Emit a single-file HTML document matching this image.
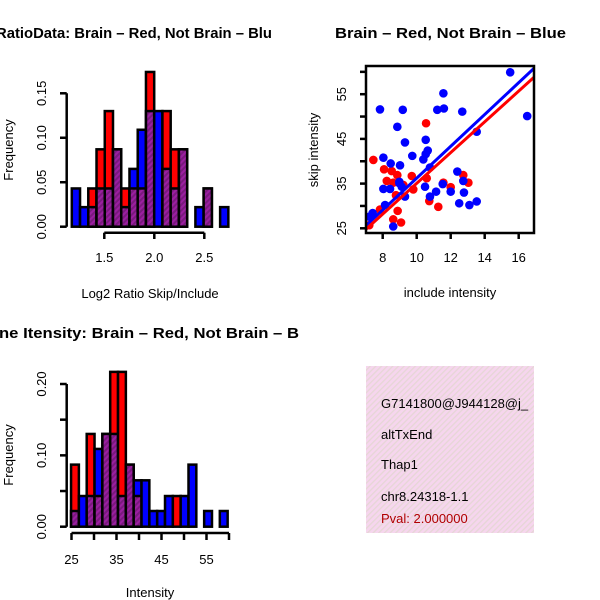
<!DOCTYPE html>
<html><head><meta charset="utf-8"><style>
body{margin:0;background:#fff}
svg{display:block;font-family:"Liberation Sans",sans-serif}
</style></head><body>
<svg id="c" width="600" height="600" viewBox="0 0 600 600">
<defs>
<pattern id="hatch" width="4" height="4" patternUnits="userSpaceOnUse" patternTransform="rotate(45)">
<rect width="4" height="4" fill="#9b1fa0"/><rect width="2" height="4" fill="#7a1a7e"/></pattern>
<pattern id="pinkhatch" width="4" height="4" patternUnits="userSpaceOnUse" patternTransform="rotate(45)">
<rect width="4" height="4" fill="#f6d6ee"/><rect width="1.3" height="4" fill="#e6d6d6"/></pattern>
<clipPath id="scClip"><rect x="366" y="66" width="168" height="167"/></clipPath>
</defs>
<g id="g"></g>
</svg>
<script>
// ---- Top-left histogram data (log2 ratio) ----
const ratioRed  = [0,0,.043,.087,.13,.087,.043,.043,.043,.174,0,.13,.087,.087,0,0,.043,0,0];
const ratioBlue = [.043,.022,.022,.043,.043,.087,.022,.065,.109,.13,.13,.065,.043,.087,0,.022,.043,0,.022];
const ratioStart = 1.175, ratioBinW = 0.0824;
const ratioXTicks = [1.5,2.0,2.5];
const ratioYTicks = [0,0.05,0.10,0.15];
const ratioYLabels = ["0.00","0.05","0.10","0.15"];
// ---- Bottom-left histogram data (intensity) ----
const intRed  = [.087,0,.13,.043,.13,.217,.217,.087,.043,0,0,0,0,.043,0,0,0,0,0,0];
const intBlue = [.022,.043,.043,.109,.13,.13,.043,.087,.065,.065,.022,.022,.043,0,.043,.087,0,.022,0,.022];
const intStart = 24.9, intBinW = 1.74;
const intXTicks = [25,30,35,40,45,50,55,60];
const intXLabels = ["25","","35","","45","","55",""];
const intYTicks = [0,0.05,0.10,0.15,0.20];
const intYLabels = ["0.00","","0.10","","0.20"];
// ---- Scatter data ----
const blueX = [15.5,11.57,7.84,9.18,11.21,11.6,12.68,16.5,8.86,13.53,9.31,10.53,10.65,10.53,10.39,9.74,8.04,8.47,9.02,10.78,12.39,12.74,8.98,11.53,10.49,8.04,8.43,9.12,9.31,10.78,11.14,12,12.78,12.5,13.1,13.53,8.14,7.41,7.21,8.62,8.98];
const blueY = [59.9,55.2,51.6,51.5,51.5,51.8,51.1,50.1,47.7,46.6,44.2,44.8,42.4,41.6,40.4,41.2,40.8,39.5,39.1,38.6,37.7,35.6,35.4,34.9,34.3,33.8,33.8,34.3,32.1,32.1,33.2,33.2,33,30.6,30.2,31,30.2,28.4,27.6,25.4,35.1];
const redX = [7.45,10.55,8.08,8.53,8.86,9.71,8.24,8.62,9.21,9.8,8.78,10.74,11.27,8.88,7.84,8.62,9.08,11.57,12,12.74,13.04,10.59,7.21];
const redY = [40.3,48.5,38.2,37.8,36.9,36.7,35.6,35.2,34.7,33.7,32.4,31.1,29.8,28.9,29.2,27,26.3,35.2,34.2,36.9,35.2,36.2,25.7];
const blueFit = [0.62,3.56]; // intercept, slope
const redFit  = [0.66,3.44];
const scXTicks = [8,10,12,14,16];
const scYTicks = [25,30,35,40,45,50,55,60];
const scYLabels = ["25","","35","","45","","55",""];

const NS="http://www.w3.org/2000/svg";
const G=document.getElementById('g');
function el(tag,attrs,parent){const e=document.createElementNS(NS,tag);for(const k in attrs)e.setAttribute(k,attrs[k]);(parent||G).appendChild(e);return e;}
function txt(x,y,s,attrs){const e=el('text',Object.assign({x:x,y:y},attrs||{}));e.textContent=s;return e;}

// ===== Top-left histogram =====
(function(){
 const xs=v=>104.3+(v-1.5)*100, ys=v=>226.7-v*(133.4/0.15);
 const g=el('g',{});
 
 
 ratioRed.forEach((r,i)=>{
  const b=ratioBlue[i],x0=xs(ratioStart+i*ratioBinW),w=ratioBinW*100;
  const mx=Math.max(r,b),mn=Math.min(r,b);
  if(mx>0){const e=el('rect',{x:x0,y:ys(mx),width:w,height:ys(0)-ys(mx),fill:r>b?'#f00':'#00f',stroke:'#000','stroke-width':2.5},g);
   
   }
  if(mn>0){const e=el('rect',{x:x0,y:ys(mn),width:w,height:ys(0)-ys(mn),fill:'url(#hatch)',stroke:'#000','stroke-width':2.5},g);
   
   }
 });
 el('line',{x1:xs(1.5),x2:xs(2.5),y1:232.7,y2:232.7,stroke:'#000','stroke-width':2.5});
 ratioXTicks.forEach(t=>{el('line',{x1:xs(t),x2:xs(t),y1:232.7,y2:239,stroke:'#000','stroke-width':2.5});
  const e=txt(xs(t),262,t.toFixed(1),{'font-size':13,'text-anchor':'middle'});
  
  });
 el('line',{x1:66.7,x2:66.7,y1:ys(0),y2:ys(0.15),stroke:'#000','stroke-width':2.5});
 ratioYTicks.forEach((t,i)=>{el('line',{x1:60,x2:66.7,y1:ys(t),y2:ys(t),stroke:'#000','stroke-width':2.5});
  const e=txt(0,0,ratioYLabels[i],{'font-size':13,'text-anchor':'middle',transform:`translate(46,${ys(t)}) rotate(-90)`});
  
  });
 const xl=txt(150,298,'Log2 Ratio Skip/Include',{'font-size':13,'text-anchor':'middle'});
 
 
 const yl=txt(0,0,'Frequency',{'font-size':13,'text-anchor':'middle',transform:'translate(13,150) rotate(-90)'});
 
 
 const t=txt(-4,38,'RatioData: Brain \u2013 Red, Not Brain \u2013 Blu',{'font-size':15,'font-weight':'bold',textLength:276,lengthAdjust:'spacingAndGlyphs'});
 
 
})();

// ===== Bottom-left histogram =====
(function(){
 const xs=v=>71.5+(v-25)*4.5, ys=v=>526.7-v*(142.7/0.2);
 const g=el('g',{});
 
 
 intRed.forEach((r,i)=>{
  const b=intBlue[i],x0=xs(intStart+i*intBinW),w=intBinW*4.5;
  const mx=Math.max(r,b),mn=Math.min(r,b);
  if(mx>0){const e=el('rect',{x:x0,y:ys(mx),width:w,height:ys(0)-ys(mx),fill:r>b?'#f00':'#00f',stroke:'#000','stroke-width':2.5},g);
   
   }
  if(mn>0){const e=el('rect',{x:x0,y:ys(mn),width:w,height:ys(0)-ys(mn),fill:'url(#hatch)',stroke:'#000','stroke-width':2.5},g);
   
   }
 });
 el('line',{x1:xs(25),x2:xs(60),y1:533,y2:533,stroke:'#000','stroke-width':2.5});
 intXTicks.forEach((t,i)=>{el('line',{x1:xs(t),x2:xs(t),y1:533,y2:540,stroke:'#000','stroke-width':2.5});
  if(intXLabels[i]){const e=txt(xs(t),564,intXLabels[i],{'font-size':13,'text-anchor':'middle'});
  
  }});
 el('line',{x1:66.7,x2:66.7,y1:ys(0),y2:ys(0.2),stroke:'#000','stroke-width':2.5});
 intYTicks.forEach((t,i)=>{el('line',{x1:60,x2:66.7,y1:ys(t),y2:ys(t),stroke:'#000','stroke-width':2.5});
  if(intYLabels[i]){const e=txt(0,0,intYLabels[i],{'font-size':13,'text-anchor':'middle',transform:`translate(46,${ys(t)}) rotate(-90)`});
  
  }});
 const xl=txt(150,597,'Intensity',{'font-size':13,'text-anchor':'middle'});
 
 
 const yl=txt(0,0,'Frequency',{'font-size':13,'text-anchor':'middle',transform:'translate(13,455) rotate(-90)'});
 
 
 const t=txt(-1,338,'ne Itensity: Brain \u2013 Red, Not Brain \u2013 B',{'font-size':15,'font-weight':'bold',textLength:300,lengthAdjust:'spacingAndGlyphs'});
 
 
})();

// ===== Scatter =====
(function(){
 const xs=v=>382.7+(v-8)*17, ys=v=>228.3-(v-25)*4.47;
 const g=el('g',{'clip-path':'url(#scClip)'});
 
 
 redX.forEach((x,i)=>{const e=el('circle',{cx:xs(x),cy:ys(redY[i]),r:4.3,fill:'#f00'},g);
  
  });
 blueX.forEach((x,i)=>{const e=el('circle',{cx:xs(x),cy:ys(blueY[i]),r:4.3,fill:'#00f'},g);
  
  });
 [[blueFit,'#00f','blue-fit-line'],[redFit,'#f00','red-fit-line']].forEach(([f,c,n])=>{
  const a=6.5,b=17.5;
  const e=el('line',{x1:xs(a),y1:ys(f[0]+f[1]*a),x2:xs(b),y2:ys(f[0]+f[1]*b),stroke:c,'stroke-width':3},g);
  
  });
 el('rect',{x:366,y:66,width:168,height:167,fill:'none',stroke:'#000','stroke-width':2.5});
 scXTicks.forEach(t=>{el('line',{x1:xs(t),x2:xs(t),y1:233,y2:239,stroke:'#000','stroke-width':2.5});
  const e=txt(xs(t),262,String(t),{'font-size':13,'text-anchor':'middle'});
  
  });
 scYTicks.forEach((t,i)=>{el('line',{x1:360,x2:366,y1:ys(t),y2:ys(t),stroke:'#000','stroke-width':2.5});
  if(scYLabels[i]){const e=txt(0,0,scYLabels[i],{'font-size':13,'text-anchor':'middle',transform:`translate(346,${ys(t)}) rotate(-90)`});
  
  }});
 const xl=txt(450,297,'include intensity',{'font-size':13,'text-anchor':'middle'});
 
 
 const yl=txt(0,0,'skip intensity',{'font-size':13,'text-anchor':'middle',transform:'translate(318,150) rotate(-90)'});
 
 
 const t=txt(335,38,'Brain \u2013 Red, Not Brain \u2013 Blue',{'font-size':15,'font-weight':'bold',textLength:231,lengthAdjust:'spacingAndGlyphs'});
 
 
})();

// ===== Info box =====
(function(){
 const g=el('g',{});
 
 
 el('rect',{x:366,y:366,width:168,height:167,fill:'url(#pinkhatch)'},g);
 const cl=el('clipPath',{id:'boxClip'});el('rect',{x:366,y:366,width:168,height:167},cl);
 const tg=el('g',{'clip-path':'url(#boxClip)','font-size':13},g);
 const lines=[['G7141800@J944128@j_',408,'#000','event-id'],['altTxEnd',439,'#000','event-type'],['Thap1',469,'#000','gene-name'],['chr8.24318-1.1',501,'#000','location'],['Pval: 2.000000',523,'#b00000','p-value']];
 lines.forEach(([s,y,c,n])=>{const e=txt(381,y,s,{fill:c});tg.appendChild(e);
  
  });
})();
</script>
</body></html>
